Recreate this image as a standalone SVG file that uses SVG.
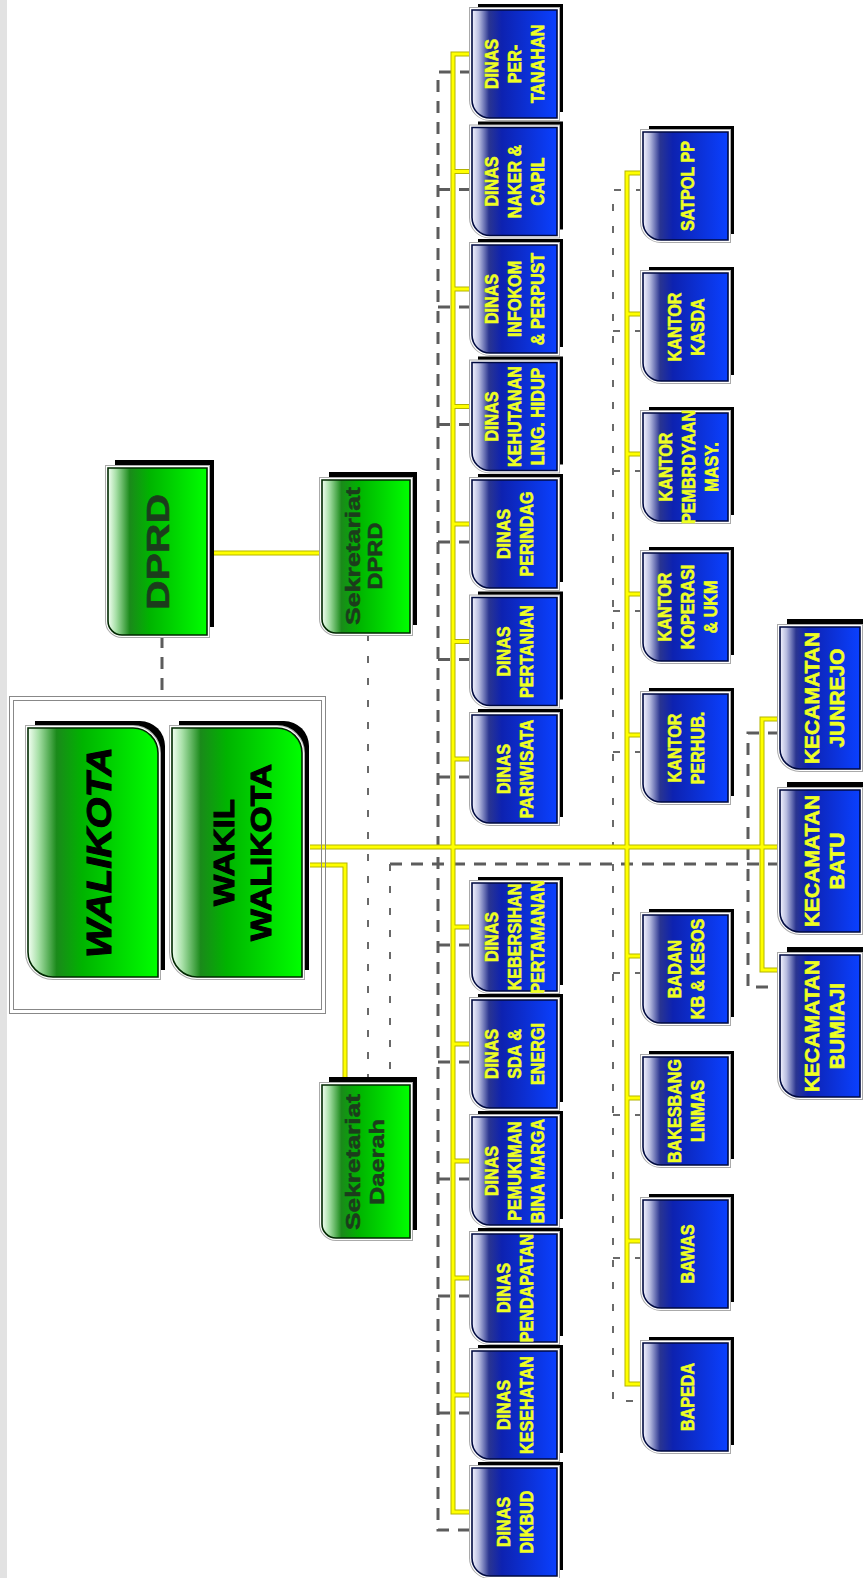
<svg xmlns="http://www.w3.org/2000/svg" width="863" height="1578" viewBox="0 0 863 1578">
<style>
.sh{fill:#000;stroke:none}
.e1{fill:none;stroke:#aaaaaa;stroke-width:6}
.e2{fill:none;stroke:#ffffff;stroke-width:4}
.bb{fill:url(#gb);stroke:#000a40;stroke-width:1.6}
.gg{fill:url(#gg);stroke:#002800;stroke-width:1.6}
.bt{font-family:"Liberation Sans",Arial,sans-serif;font-weight:bold;font-size:19px;fill:#eeff22;stroke:#eeff22;stroke-width:0.6;text-anchor:middle}
.kt{font-family:"Liberation Sans",Arial,sans-serif;font-weight:bold;font-size:21px;fill:#eeff22;stroke:#eeff22;stroke-width:0.6;text-anchor:middle}
.gt{font-family:"Liberation Sans",Arial,sans-serif;font-weight:bold;fill:#1c3c1c;stroke:#1c3c1c;stroke-width:0.5;text-anchor:middle}
.wt{font-family:"Liberation Sans",Arial,sans-serif;font-weight:bold;fill:#000;stroke:#000;stroke-width:1;text-anchor:middle}
.y1{fill:none;stroke:#b4b400;stroke-width:5}
.y2{fill:none;stroke:#ffff00;stroke-width:3}
.dl{fill:none;stroke:#5c5c5c;stroke-width:3;stroke-dasharray:12 9}
.df{fill:none;stroke:#6a6a6a;stroke-width:2;stroke-dasharray:7 15}
.fr{fill:none;stroke:#888;stroke-width:1}
</style>
<defs>
<linearGradient id="gb" x1="0" y1="0" x2="1" y2="0">
<stop offset="0" stop-color="#f4f4ff"/><stop offset="0.08" stop-color="#b8bde0"/><stop offset="0.2" stop-color="#2a3590"/><stop offset="0.35" stop-color="#0d22b0"/><stop offset="1" stop-color="#0a40ff"/>
</linearGradient>
<linearGradient id="gg" x1="0" y1="0" x2="1" y2="0">
<stop offset="0" stop-color="#f4fff4"/><stop offset="0.08" stop-color="#a8e0a8"/><stop offset="0.22" stop-color="#1a8a1a"/><stop offset="0.42" stop-color="#00b400"/><stop offset="1" stop-color="#00ff00"/>
</linearGradient>
<path id="bp" d="M0,0H85V108H18A18,18 0 0 1 0,90Z"/>
<path id="kp" d="M0,0H80V142H20A20,20 0 0 1 0,122Z"/>
<path id="dp" d="M0,0H99V167H14A14,14 0 0 1 0,153Z"/>
<path id="sp" d="M0,0H88V153H14A14,14 0 0 1 0,139Z"/>
<path id="wp" d="M0,0H105A25,25 0 0 1 130,25V249H25A25,25 0 0 1 0,224Z"/>
<path id="yl" d="M213,553H322 M310,847H780 M310,865H345V1085 M472,54H453V1512H472 M453,171.5H472 M453,289H472 M453,406.5H472 M453,524H472 M453,641.5H472 M453,759H472 M453,927H472 M453,1044H472 M453,1161H472 M453,1278H472 M453,1395H472 M643,173H627V1384H643 M627,314H643 M627,454H643 M627,594H643 M627,735H643 M627,956H643 M627,1098H643 M627,1241H643 M780,719H762V970H780"/>
</defs>
<rect x="0" y="0" width="7" height="1578" fill="#e2e2e2"/>
<g id="connectors">
<path class="dl" d="M162,636V697 M390,864H780 M472,72H438V1530H472 M438,189.5H472 M438,307H472 M438,424.5H472 M438,542H472 M438,659.5H472 M438,777H472 M438,945H472 M438,1062H472 M438,1179H472 M438,1296H472 M438,1413H472 M780,733H748V987H780"/>
<path class="df" d="M368,634V1077 M390,864V1077 M643,190H613V1401H643 M613,331H643 M613,471H643 M613,611H643 M613,752H643 M613,973H643 M613,1115H643 M613,1258H643"/>
<use href="#yl" class="y1"/>
<use href="#yl" class="y2"/>
</g>
<g id="frame-walikota"><rect class="fr" x="9.5" y="696.5" width="316" height="317"/><rect class="fr" x="13.5" y="700.5" width="308" height="309"/></g>
<g id="dprd"><use href="#dp" class="sh" x="115" y="460"/><use href="#dp" class="e1" x="108" y="468"/><use href="#dp" class="e2" x="108" y="468"/><use href="#dp" class="gg" x="108" y="468"/>
<text class="gt" font-size="32" transform="translate(157,552) rotate(-90)"><tspan x="0" y="11.5" textLength="116" lengthAdjust="spacingAndGlyphs">DPRD</tspan></text></g>
<g id="sekretariat-dprd"><use href="#sp" class="sh" x="329" y="472"/><use href="#sp" class="e1" x="322" y="480"/><use href="#sp" class="e2" x="322" y="480"/><use href="#sp" class="gg" x="322" y="480"/>
<text class="gt" font-size="21" transform="translate(352,556) rotate(-90)"><tspan x="0" y="7.5" textLength="138" lengthAdjust="spacingAndGlyphs">Sekretariat</tspan><tspan x="0" y="29.5" textLength="67" lengthAdjust="spacingAndGlyphs">DPRD</tspan></text></g>
<g id="walikota"><use href="#wp" class="sh" x="35" y="721"/><use href="#wp" class="e1" x="28" y="728"/><use href="#wp" class="e2" x="28" y="728"/><use href="#wp" class="gg" x="28" y="728"/>
<text class="wt" font-size="35" font-style="italic" transform="translate(98,852.5) rotate(-90)"><tspan x="0" y="12.5" textLength="211" lengthAdjust="spacingAndGlyphs">WALIKOTA</tspan></text></g>
<g id="wakil-walikota"><use href="#wp" class="sh" x="179" y="721"/><use href="#wp" class="e1" x="172" y="728"/><use href="#wp" class="e2" x="172" y="728"/><use href="#wp" class="gg" x="172" y="728"/>
<text class="wt" font-size="30" transform="translate(223,852.5) rotate(-90)"><tspan x="0" y="10.5" textLength="107" lengthAdjust="spacingAndGlyphs">WAKIL</tspan><tspan x="0" y="47.5" textLength="177" lengthAdjust="spacingAndGlyphs">WALIKOTA</tspan></text></g>
<g id="sekretariat-daerah"><use href="#sp" class="sh" x="329" y="1077"/><use href="#sp" class="e1" x="322" y="1085"/><use href="#sp" class="e2" x="322" y="1085"/><use href="#sp" class="gg" x="322" y="1085"/>
<text class="gt" font-size="21" transform="translate(352,1162) rotate(-90)"><tspan x="0" y="7.5" textLength="136" lengthAdjust="spacingAndGlyphs">Sekretariat</tspan><tspan x="0" y="32" textLength="86" lengthAdjust="spacingAndGlyphs">Daerah</tspan></text></g>

<g id="dinas-pertanahan"><use href="#bp" class="sh" x="478" y="4"/><use href="#bp" class="e1" x="472" y="10"/><use href="#bp" class="e2" x="472" y="10"/><use href="#bp" class="bb" x="472" y="10"/>
<text class="bt" transform="translate(514.5,64) rotate(-90) scale(0.85,1)"><tspan x="0" y="-16.2">DINAS</tspan><tspan x="0" y="6.8">PER-</tspan><tspan x="0" y="29.8">TANAHAN</tspan></text></g>
<g id="dinas-naker"><use href="#bp" class="sh" x="478" y="121.5"/><use href="#bp" class="e1" x="472" y="127.5"/><use href="#bp" class="e2" x="472" y="127.5"/><use href="#bp" class="bb" x="472" y="127.5"/>
<text class="bt" transform="translate(514.5,181.5) rotate(-90) scale(0.85,1)"><tspan x="0" y="-16.2">DINAS</tspan><tspan x="0" y="6.8">NAKER &amp;</tspan><tspan x="0" y="29.8">CAPIL</tspan></text></g>
<g id="dinas-infokom"><use href="#bp" class="sh" x="478" y="239"/><use href="#bp" class="e1" x="472" y="245"/><use href="#bp" class="e2" x="472" y="245"/><use href="#bp" class="bb" x="472" y="245"/>
<text class="bt" transform="translate(514.5,299) rotate(-90) scale(0.85,1)"><tspan x="0" y="-16.2">DINAS</tspan><tspan x="0" y="6.8">INFOKOM</tspan><tspan x="0" y="29.8">&amp; PERPUST</tspan></text></g>
<g id="dinas-kehutanan"><use href="#bp" class="sh" x="478" y="356.5"/><use href="#bp" class="e1" x="472" y="362.5"/><use href="#bp" class="e2" x="472" y="362.5"/><use href="#bp" class="bb" x="472" y="362.5"/>
<text class="bt" transform="translate(514.5,416.5) rotate(-90) scale(0.85,1)"><tspan x="0" y="-16.2">DINAS</tspan><tspan x="0" y="6.8">KEHUTANAN</tspan><tspan x="0" y="29.8">LING. HIDUP</tspan></text></g>
<g id="dinas-perindag"><use href="#bp" class="sh" x="478" y="474"/><use href="#bp" class="e1" x="472" y="480"/><use href="#bp" class="e2" x="472" y="480"/><use href="#bp" class="bb" x="472" y="480"/>
<text class="bt" transform="translate(514.5,534) rotate(-90) scale(0.85,1)"><tspan x="0" y="-4.7">DINAS</tspan><tspan x="0" y="18.3">PERINDAG</tspan></text></g>
<g id="dinas-pertanian"><use href="#bp" class="sh" x="478" y="591.5"/><use href="#bp" class="e1" x="472" y="597.5"/><use href="#bp" class="e2" x="472" y="597.5"/><use href="#bp" class="bb" x="472" y="597.5"/>
<text class="bt" transform="translate(514.5,651.5) rotate(-90) scale(0.85,1)"><tspan x="0" y="-4.7">DINAS</tspan><tspan x="0" y="18.3">PERTANIAN</tspan></text></g>
<g id="dinas-pariwisata"><use href="#bp" class="sh" x="478" y="709"/><use href="#bp" class="e1" x="472" y="715"/><use href="#bp" class="e2" x="472" y="715"/><use href="#bp" class="bb" x="472" y="715"/>
<text class="bt" transform="translate(514.5,769) rotate(-90) scale(0.85,1)"><tspan x="0" y="-4.7">DINAS</tspan><tspan x="0" y="18.3">PARIWISATA</tspan></text></g>
<g id="dinas-kebersihan"><use href="#bp" class="sh" x="478" y="877"/><use href="#bp" class="e1" x="472" y="883"/><use href="#bp" class="e2" x="472" y="883"/><use href="#bp" class="bb" x="472" y="883"/>
<text class="bt" transform="translate(514.5,937) rotate(-90) scale(0.85,1)"><tspan x="0" y="-16.2">DINAS</tspan><tspan x="0" y="6.8">KEBERSIHAN</tspan><tspan x="0" y="29.8">PERTAMANAN</tspan></text></g>
<g id="dinas-sda"><use href="#bp" class="sh" x="478" y="994"/><use href="#bp" class="e1" x="472" y="1000"/><use href="#bp" class="e2" x="472" y="1000"/><use href="#bp" class="bb" x="472" y="1000"/>
<text class="bt" transform="translate(514.5,1054) rotate(-90) scale(0.85,1)"><tspan x="0" y="-16.2">DINAS</tspan><tspan x="0" y="6.8">SDA &amp;</tspan><tspan x="0" y="29.8">ENERGI</tspan></text></g>
<g id="dinas-pemukiman"><use href="#bp" class="sh" x="478" y="1111"/><use href="#bp" class="e1" x="472" y="1117"/><use href="#bp" class="e2" x="472" y="1117"/><use href="#bp" class="bb" x="472" y="1117"/>
<text class="bt" transform="translate(514.5,1171) rotate(-90) scale(0.85,1)"><tspan x="0" y="-16.2">DINAS</tspan><tspan x="0" y="6.8">PEMUKIMAN</tspan><tspan x="0" y="29.8">BINA MARGA</tspan></text></g>
<g id="dinas-pendapatan"><use href="#bp" class="sh" x="478" y="1228"/><use href="#bp" class="e1" x="472" y="1234"/><use href="#bp" class="e2" x="472" y="1234"/><use href="#bp" class="bb" x="472" y="1234"/>
<text class="bt" transform="translate(514.5,1288) rotate(-90) scale(0.85,1)"><tspan x="0" y="-4.7">DINAS</tspan><tspan x="0" y="18.3">PENDAPATAN</tspan></text></g>
<g id="dinas-kesehatan"><use href="#bp" class="sh" x="478" y="1345"/><use href="#bp" class="e1" x="472" y="1351"/><use href="#bp" class="e2" x="472" y="1351"/><use href="#bp" class="bb" x="472" y="1351"/>
<text class="bt" transform="translate(514.5,1405) rotate(-90) scale(0.85,1)"><tspan x="0" y="-4.7">DINAS</tspan><tspan x="0" y="18.3">KESEHATAN</tspan></text></g>
<g id="dinas-dikbud"><use href="#bp" class="sh" x="478" y="1462"/><use href="#bp" class="e1" x="472" y="1468"/><use href="#bp" class="e2" x="472" y="1468"/><use href="#bp" class="bb" x="472" y="1468"/>
<text class="bt" transform="translate(514.5,1522) rotate(-90) scale(0.85,1)"><tspan x="0" y="-4.7">DINAS</tspan><tspan x="0" y="18.3">DIKBUD</tspan></text></g>

<g id="satpol-pp"><use href="#bp" class="sh" x="649" y="126"/><use href="#bp" class="e1" x="643" y="132"/><use href="#bp" class="e2" x="643" y="132"/><use href="#bp" class="bb" x="643" y="132"/>
<text class="bt" transform="translate(687,186) rotate(-90) scale(0.85,1)"><tspan x="0" y="6.8">SATPOL PP</tspan></text></g>
<g id="kantor-kasda"><use href="#bp" class="sh" x="649" y="267"/><use href="#bp" class="e1" x="643" y="273"/><use href="#bp" class="e2" x="643" y="273"/><use href="#bp" class="bb" x="643" y="273"/>
<text class="bt" transform="translate(686,327) rotate(-90) scale(0.85,1)"><tspan x="0" y="-4.7">KANTOR</tspan><tspan x="0" y="18.3">KASDA</tspan></text></g>
<g id="kantor-pembrdyaan"><use href="#bp" class="sh" x="649" y="407"/><use href="#bp" class="e1" x="643" y="413"/><use href="#bp" class="e2" x="643" y="413"/><use href="#bp" class="bb" x="643" y="413"/>
<text class="bt" transform="translate(688,467) rotate(-90) scale(0.85,1)"><tspan x="0" y="-16.2">KANTOR</tspan><tspan x="0" y="6.8">PEMBRDYAAN</tspan><tspan x="0" y="29.8">MASY.</tspan></text></g>
<g id="kantor-koperasi"><use href="#bp" class="sh" x="649" y="547"/><use href="#bp" class="e1" x="643" y="553"/><use href="#bp" class="e2" x="643" y="553"/><use href="#bp" class="bb" x="643" y="553"/>
<text class="bt" transform="translate(687,607) rotate(-90) scale(0.85,1)"><tspan x="0" y="-16.2">KANTOR</tspan><tspan x="0" y="6.8">KOPERASI</tspan><tspan x="0" y="29.8">&amp; UKM</tspan></text></g>
<g id="kantor-perhub"><use href="#bp" class="sh" x="649" y="688"/><use href="#bp" class="e1" x="643" y="694"/><use href="#bp" class="e2" x="643" y="694"/><use href="#bp" class="bb" x="643" y="694"/>
<text class="bt" transform="translate(686,748) rotate(-90) scale(0.85,1)"><tspan x="0" y="-4.7">KANTOR</tspan><tspan x="0" y="18.3">PERHUB.</tspan></text></g>
<g id="badan-kb"><use href="#bp" class="sh" x="649" y="909"/><use href="#bp" class="e1" x="643" y="915"/><use href="#bp" class="e2" x="643" y="915"/><use href="#bp" class="bb" x="643" y="915"/>
<text class="bt" transform="translate(686,969) rotate(-90) scale(0.85,1)"><tspan x="0" y="-4.7">BADAN</tspan><tspan x="0" y="18.3">KB &amp; KESOS</tspan></text></g>
<g id="bakesbang"><use href="#bp" class="sh" x="649" y="1051"/><use href="#bp" class="e1" x="643" y="1057"/><use href="#bp" class="e2" x="643" y="1057"/><use href="#bp" class="bb" x="643" y="1057"/>
<text class="bt" transform="translate(686,1111) rotate(-90) scale(0.85,1)"><tspan x="0" y="-4.7">BAKESBANG</tspan><tspan x="0" y="18.3">LINMAS</tspan></text></g>
<g id="bawas"><use href="#bp" class="sh" x="649" y="1194"/><use href="#bp" class="e1" x="643" y="1200"/><use href="#bp" class="e2" x="643" y="1200"/><use href="#bp" class="bb" x="643" y="1200"/>
<text class="bt" transform="translate(687,1254) rotate(-90) scale(0.85,1)"><tspan x="0" y="6.8">BAWAS</tspan></text></g>
<g id="bapeda"><use href="#bp" class="sh" x="649" y="1337"/><use href="#bp" class="e1" x="643" y="1343"/><use href="#bp" class="e2" x="643" y="1343"/><use href="#bp" class="bb" x="643" y="1343"/>
<text class="bt" transform="translate(687,1397) rotate(-90) scale(0.85,1)"><tspan x="0" y="6.8">BAPEDA</tspan></text></g>

<g id="kecamatan-junrejo"><use href="#kp" class="sh" x="787" y="619"/><use href="#kp" class="e1" x="780" y="627"/><use href="#kp" class="e2" x="780" y="627"/><use href="#kp" class="bb" x="780" y="627"/>
<text class="kt" transform="translate(824,698) rotate(-90)"><tspan x="0" y="-5">KECAMATAN</tspan><tspan x="0" y="20">JUNREJO</tspan></text></g>
<g id="kecamatan-batu"><use href="#kp" class="sh" x="787" y="782"/><use href="#kp" class="e1" x="780" y="790"/><use href="#kp" class="e2" x="780" y="790"/><use href="#kp" class="bb" x="780" y="790"/>
<text class="kt" transform="translate(824,861) rotate(-90)"><tspan x="0" y="-5">KECAMATAN</tspan><tspan x="0" y="20">BATU</tspan></text></g>
<g id="kecamatan-bumiaji"><use href="#kp" class="sh" x="787" y="947"/><use href="#kp" class="e1" x="780" y="955"/><use href="#kp" class="e2" x="780" y="955"/><use href="#kp" class="bb" x="780" y="955"/>
<text class="kt" transform="translate(824,1026) rotate(-90)"><tspan x="0" y="-5">KECAMATAN</tspan><tspan x="0" y="20">BUMIAJI</tspan></text></g>
</svg>
